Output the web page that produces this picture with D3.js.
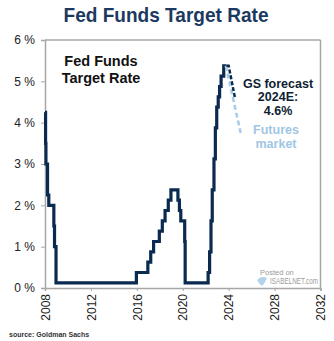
<!DOCTYPE html>
<html>
<head>
<meta charset="utf-8">
<script src="https://cdn.jsdelivr.net/npm/d3@7"></script>
<style>
  html, body { margin: 0; padding: 0; background: #fff; }
  svg { display: block; }
</style>
</head>
<body>
<svg id="chart" width="334" height="341"></svg>
<script>
// Fed funds target rate (mid-point of range), change dates as decimal years
const rateDates = [2008.0, 2008.05, 2008.08, 2008.22, 2008.33, 2008.77, 2008.83, 2008.96,
  2015.96, 2016.96, 2017.21, 2017.46, 2017.96, 2018.22, 2018.46, 2018.74, 2018.97,
  2019.58, 2019.71, 2019.83, 2020.17, 2020.21,
  2022.21, 2022.34, 2022.46, 2022.57, 2022.72, 2022.84, 2022.96, 2023.09, 2023.21, 2023.34, 2023.57, 2023.8];
const rateValues = [4.25, 3.5, 3.0, 2.25, 2.0, 1.5, 1.0, 0.125,
  0.375, 0.625, 0.875, 1.125, 1.375, 1.625, 1.875, 2.125, 2.375,
  2.125, 1.875, 1.625, 1.125, 0.125,
  0.375, 0.875, 1.625, 2.375, 3.125, 3.875, 4.375, 4.625, 4.875, 5.125, 5.375, 5.375];

// Goldman Sachs forecast path
const gsDates = [2023.8, 2024.0, 2024.55];
const gsValues = [5.375, 5.375, 4.6];

// Futures-implied path
const futDates = [2023.75, 2025.05];
const futValues = [5.375, 3.75];

const yTicks = [0, 1, 2, 3, 4, 5, 6];
const xTicks = [2008, 2012, 2016, 2020, 2024, 2028, 2032];

const svg = d3.select("#chart");
const plotLeft = 45, plotRight = 320.5, plotTop = 40, plotBottom = 288;

const x = d3.scaleLinear().domain([2008, 2032]).range([plotLeft, plotRight]);
const y = d3.scaleLinear().domain([0, 6]).range([plotBottom, plotTop]);

// Title
svg.append("text")
  .attr("x", 166).attr("y", 22)
  .attr("text-anchor", "middle")
  .attr("font-family", "Liberation Sans, Arial, sans-serif")
  .attr("font-weight", "bold")
  .attr("font-size", 21)
  .attr("fill", "#1c3a60")
  .attr("textLength", 205)
  .attr("lengthAdjust", "spacingAndGlyphs")
  .text("Fed Funds Target Rate");

// Frame: top and right edges
const frameColor = "#a6a6a6";
svg.append("line").attr("x1", plotLeft).attr("x2", plotRight).attr("y1", plotTop).attr("y2", plotTop)
  .attr("stroke", frameColor).attr("stroke-width", 1.5);
svg.append("line").attr("x1", plotRight).attr("x2", plotRight).attr("y1", plotTop).attr("y2", plotBottom)
  .attr("stroke", frameColor).attr("stroke-width", 1.5);

// Y axis
const yAxis = svg.append("g")
  .attr("transform", `translate(${plotLeft},0)`)
  .call(d3.axisLeft(y).tickValues(yTicks).tickSize(4).tickPadding(6).tickFormat(d => d + " %"));
yAxis.select(".domain").attr("stroke", frameColor).attr("stroke-width", 1.5);
yAxis.selectAll(".tick line").attr("stroke", frameColor);
yAxis.selectAll(".tick text")
  .attr("font-family", "Liberation Sans, Arial, sans-serif")
  .attr("font-size", 12).attr("fill", "#222");

// X axis
const xAxis = svg.append("g")
  .attr("transform", `translate(0,${plotBottom})`)
  .call(d3.axisBottom(x).tickValues(xTicks).tickSize(3).tickFormat(d3.format("d")));
xAxis.select(".domain").attr("stroke", frameColor).attr("stroke-width", 1.5);
xAxis.selectAll(".tick line").attr("stroke", frameColor);
xAxis.selectAll(".tick text")
  .attr("font-family", "Liberation Sans, Arial, sans-serif")
  .attr("font-size", 12).attr("fill", "#222")
  .attr("text-anchor", "end")
  .attr("transform", "translate(0,6) rotate(-90)")
  .attr("x", 0).attr("y", 0).attr("dx", 0).attr("dy", "0.35em");

// Historical rate
const hist = rateDates.map((d, i) => [d, rateValues[i]]);
svg.append("path")
  .datum(hist)
  .attr("fill", "none")
  .attr("stroke", "#0b2a50")
  .attr("stroke-width", 3.2)
  .attr("stroke-linejoin", "miter")
  .attr("d", d3.line().x(d => x(d[0])).y(d => y(d[1])).curve(d3.curveStepAfter));

// Futures market path
const fut = futDates.map((d, i) => [d, futValues[i]]);
svg.append("path")
  .datum(fut)
  .attr("fill", "none")
  .attr("stroke", "#a9cbe6")
  .attr("stroke-width", 2.5)
  .attr("stroke-dasharray", "5,3")
  .attr("d", d3.line().x(d => x(d[0])).y(d => y(d[1])));

// GS forecast path
const gs = gsDates.map((d, i) => [d, gsValues[i]]);
svg.append("path")
  .datum(gs)
  .attr("fill", "none")
  .attr("stroke", "#0b2a50")
  .attr("stroke-width", 2.5)
  .attr("stroke-dasharray", "4,2")
  .attr("d", d3.line().x(d => x(d[0])).y(d => y(d[1])));

// In-plot label
const label = svg.append("text")
  .attr("font-family", "Liberation Sans, Arial, sans-serif")
  .attr("font-weight", "bold").attr("font-size", 14.5).attr("fill", "#111")
  .attr("text-anchor", "middle");
label.append("tspan").attr("x", 101).attr("y", 66).text("Fed Funds");
label.append("tspan").attr("x", 101).attr("y", 83).text("Target Rate");

// Forecast annotations
const gsText = svg.append("text")
  .attr("font-family", "Liberation Sans, Arial, sans-serif")
  .attr("font-weight", "bold").attr("font-size", 12.5).attr("fill", "#0e1e33")
  .attr("text-anchor", "middle");
gsText.append("tspan").attr("x", 278).attr("y", 87.5).text("GS forecast");
gsText.append("tspan").attr("x", 278).attr("y", 101).text("2024E:");
gsText.append("tspan").attr("x", 278).attr("y", 114.5).text("4.6%");

const futText = svg.append("text")
  .attr("font-family", "Liberation Sans, Arial, sans-serif")
  .attr("font-weight", "bold").attr("font-size", 12.5).attr("fill", "#9fc6e4")
  .attr("text-anchor", "middle");
futText.append("tspan").attr("x", 276).attr("y", 133.5).text("Futures");
futText.append("tspan").attr("x", 276).attr("y", 148).text("market");

// Watermark
svg.append("text")
  .attr("x", 260).attr("y", 274.5)
  .attr("font-family", "Liberation Sans, Arial, sans-serif")
  .attr("font-size", 7.5).attr("fill", "#9a9a9a")
  .text("Posted on");
svg.append("text")
  .attr("x", 270).attr("y", 283.5)
  .attr("font-family", "Liberation Sans, Arial, sans-serif")
  .attr("font-size", 8.5).attr("fill", "#9a9a9a")
  .attr("textLength", 48).attr("lengthAdjust", "spacingAndGlyphs")
  .text("ISABELNET.com");
svg.append("path")
  .attr("d", "M257,280 q4,-5 10,-2 q-2,5 -5,8 q-3,-2 -5,-6 z")
  .attr("fill", "#a9cfe9").attr("opacity", 0.9);

// Source note
svg.append("text")
  .attr("x", 9).attr("y", 337)
  .attr("font-family", "Liberation Sans, Arial, sans-serif")
  .attr("font-weight", "bold").attr("font-size", 7).attr("fill", "#333")
  .text("source: Goldman Sachs");
</script>
</body>
</html>
